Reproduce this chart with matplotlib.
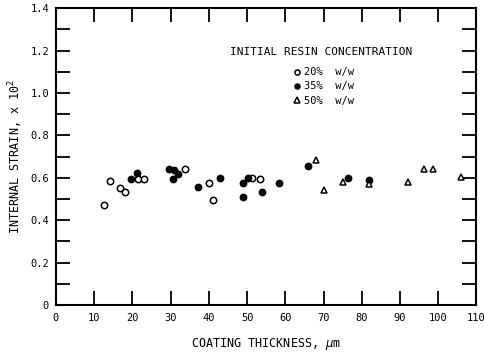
import matplotlib
matplotlib.use("Agg")
import matplotlib.pyplot as plt
from matplotlib.ticker import MultipleLocator

plt.rcParams['font.family'] = ['DejaVu Sans Mono', 'DejaVu Sans']

# Internal strain (x 10^2) versus coating thickness (um) by initial resin concentration
thick_20 = [12.6, 14.0, 16.8, 18.0, 21.5, 23.1, 33.8, 39.9, 41.2, 51.4, 53.3]
strain_20 = [0.472, 0.586, 0.553, 0.535, 0.596, 0.596, 0.640, 0.577, 0.497, 0.601, 0.596]

thick_35 = [19.6, 21.3, 29.5, 30.9, 31.9, 30.7, 37.1, 42.8, 48.9, 48.8, 50.3, 53.8,
            58.4, 65.9, 76.4, 82.0]
strain_35 = [0.596, 0.621, 0.640, 0.638, 0.616, 0.594, 0.555, 0.599, 0.577, 0.511,
             0.599, 0.535, 0.575, 0.656, 0.599, 0.590]

thick_50 = [68.0, 70.2, 75.0, 82.0, 92.0, 96.2, 98.6, 105.9]
strain_50 = [0.686, 0.544, 0.579, 0.571, 0.579, 0.640, 0.640, 0.605]

labels = ["20%  w/w", "35%  w/w", "50%  w/w"]
legend_title = "INITIAL RESIN CONCENTRATION"

fig = plt.figure(figsize=(4.84, 3.53), dpi=100)
ax = fig.add_axes([0.1157, 0.136, 0.8688, 0.841])

ms = 4.6
ax.plot(thick_20, strain_20, 'o', ls='none', mfc='white', mec='black', mew=1.1, ms=ms,
        label=labels[0])
ax.plot(thick_35, strain_35, 'o', ls='none', mfc='black', mec='black', mew=1.0, ms=ms,
        label=labels[1])
ax.plot(thick_50, strain_50, '^', ls='none', mfc='white', mec='black', mew=1.1, ms=ms + 0.4,
        label=labels[2])

ax.set_xlim(0, 110)
ax.set_ylim(0, 1.4)
ax.xaxis.set_major_locator(MultipleLocator(10))
ax.yaxis.set_major_locator(MultipleLocator(0.2))
ax.yaxis.set_minor_locator(MultipleLocator(0.1))

ax.set_yticklabels(["0" if abs(v) < 1e-9 else f"{v:.1f}" for v in ax.get_yticks()])

for s in ax.spines.values():
    s.set_linewidth(1.5)

ax.tick_params(axis='both', which='both', direction='in', length=10, width=1.3,
               top=True, right=True, labelsize=7.5, pad=5)
ax.tick_params(axis='x', which='major', pad=6)

ax.set_xlabel("COATING THICKNESS, $\\mu$m", fontsize=8.5, labelpad=9)
ax.set_ylabel("INTERNAL STRAIN, x 10$^2$", fontsize=8.5, labelpad=4)

# Legend heading and entries
ax.text(0.630, 0.852, legend_title, transform=ax.transAxes, ha='center', va='center',
        fontsize=8)
ax.legend(frameon=False, fontsize=7.5, loc='upper left', bbox_to_anchor=(0.561, 0.801),
          borderaxespad=0, borderpad=0, handletextpad=0.2, labelspacing=0.4,
          markerscale=0.8, handlelength=1.0)

fig.savefig("out.png", dpi=100)
